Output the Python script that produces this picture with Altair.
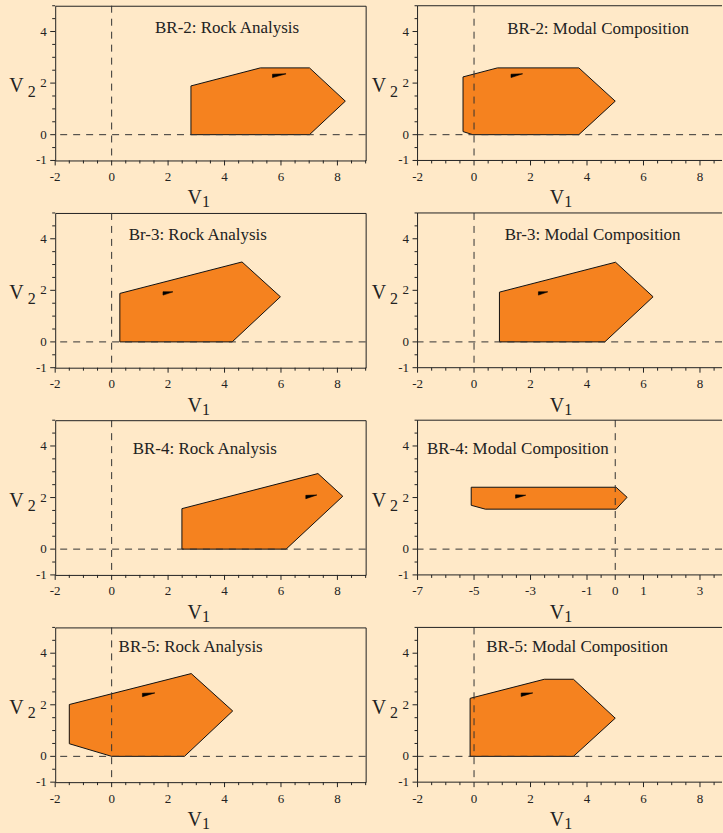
import altair as alt
import numpy as np
import pandas as pd

BG = "#FFE9C8"
ORANGE = "#F5821F"
INK = "#222222"
SERIF = "Liberation Serif"

# Panel order: row by row, rock analysis (left) then modal composition (right)
panel_titles = [
    "BR-2: Rock Analysis", "BR-2: Modal Composition",
    "Br-3: Rock Analysis", "Br-3: Modal Composition",
    "BR-4: Rock Analysis", "BR-4: Modal Composition",
    "BR-5: Rock Analysis", "BR-5: Modal Composition",
]
title_v1 = [4.09, 4.39, 3.05, 4.20, 3.30, -3.45, 2.80, 3.65]
title_v2 = [3.94, 3.91, 3.94, 3.94, 3.68, 3.68, 4.03, 4.03]

# Polygon vertices (V1, V2) of each region
region_v1 = [
    [2.81, 2.81, 5.27, 7.01, 8.28, 7.01],
    [-0.39, -0.39, 0.83, 3.71, 5.00, 3.71, -0.04],
    [0.29, 0.29, 4.62, 5.98, 4.27],
    [0.90, 0.90, 5.01, 6.34, 4.63],
    [2.49, 2.49, 7.31, 8.19, 6.18],
    [-5.10, -5.10, 0.03, 0.42, 0.03, -4.60],
    [-1.50, -1.50, 2.82, 4.29, 2.58, 0.00],
    [-0.14, -0.14, 2.49, 3.52, 5.00, 3.52],
]
region_v2 = [
    [0.00, 1.89, 2.59, 2.59, 1.30, 0.00],
    [0.12, 2.24, 2.59, 2.59, 1.30, 0.00, 0.00],
    [0.00, 1.88, 3.10, 1.75, 0.00],
    [0.00, 1.93, 3.09, 1.75, 0.00],
    [0.00, 1.57, 2.93, 2.05, 0.00],
    [1.70, 2.40, 2.40, 2.01, 1.55, 1.55],
    [0.49, 2.01, 3.21, 1.76, 0.00, 0.00],
    [0.00, 2.25, 2.99, 2.99, 1.48, 0.00],
]

# Direction pointer: tail and tip in (V1, V2)
pointer_tail_v1 = [5.70, 1.31, 1.82, 2.28, 6.88, -3.53, 1.09, 1.67]
pointer_tail_v2 = [2.28, 2.28, 1.88, 1.88, 2.02, 2.04, 2.38, 2.39]
pointer_tip_v1 = [6.18, 1.72, 2.17, 2.61, 7.27, -3.17, 1.53, 2.08]
pointer_tip_v2 = [2.36, 2.36, 1.94, 1.94, 2.10, 2.09, 2.46, 2.46]
pointer_half_width = 0.065

# Axis ranges and labelled ticks
left_domain = [-2, 9]
right_domain = [-2, 8.78]
br4_modal_domain = [-7, 3.78]
x_domains = [left_domain, right_domain] * 2 + [left_domain, br4_modal_domain] + [left_domain, right_domain]
x_labels_std = [-2, 0, 2, 4, 6, 8]
x_labels_br4_modal = [-7, -5, -3, -1, 0, 1, 3]
x_labels = [x_labels_std] * 5 + [x_labels_br4_modal] + [x_labels_std] * 2
y_domain = [-1, 5]
y_labels = [-1, 0, 2, 4]
origin_lines = [0]

LEFT_W, RIGHT_W, PANEL_H = 311, 305, 155
MAJOR_TICK, MINOR_TICK = 5, 3


def minor_positions(labels, lo, hi):
    return [float(v) for v in np.arange(lo, hi + 1e-9, 0.5) if v not in labels]


def panel(i, width, right_col):
    lo, hi = x_domains[i]
    xscale = alt.Scale(domain=[lo, hi], nice=False, zero=False)
    yscale = alt.Scale(domain=y_domain, nice=False, zero=False)

    def X(field):
        return alt.X(field, scale=xscale, axis=None)

    def Y(field):
        return alt.Y(field, scale=yscale, axis=None)

    xs, ys = region_v1[i], region_v2[i]
    region = pd.DataFrame({"v1": xs + xs[:1], "v2": ys + ys[:1], "k": list(range(len(xs) + 1))})
    shape = alt.Chart(region).mark_line(
        fill=ORANGE, stroke="#111111", strokeWidth=1, strokeJoin="miter"
    ).encode(x=X("v1:Q"), y=Y("v2:Q"), order="k:Q")

    tx, ty = pointer_tail_v1[i], pointer_tail_v2[i]
    px, py = pointer_tip_v1[i], pointer_tip_v2[i]
    hw = pointer_half_width
    pointer = pd.DataFrame({
        "v1": [tx, tx, px, tx],
        "v2": [ty + hw, ty - hw, py, ty + hw],
        "k": [0, 1, 2, 3],
    })
    arrow = alt.Chart(pointer).mark_line(fill="black", stroke="black", strokeWidth=0.6).encode(
        x=X("v1:Q"), y=Y("v2:Q"), order="k:Q"
    )

    zero_df = pd.DataFrame({"z": origin_lines})
    dash = dict(color="#333333", strokeWidth=1, strokeDash=[7, 6])
    vline = alt.Chart(zero_df).mark_rule(**dash).encode(x=X("z:Q"))
    hline = alt.Chart(zero_df).mark_rule(**dash).encode(y=Y("z:Q"))

    # tick marks (major and minor) drawn outside the frame
    def xticks(vals, size):
        return alt.Chart(pd.DataFrame({"t": vals})).mark_rule(color=INK, strokeWidth=1).encode(
            x=X("t:Q"), y=alt.value(PANEL_H), y2=alt.value(PANEL_H + size)
        )

    def yticks(vals, size):
        return alt.Chart(pd.DataFrame({"t": vals})).mark_rule(color=INK, strokeWidth=1).encode(
            y=Y("t:Q"), x=alt.value(0), x2=alt.value(-size)
        )

    xl = x_labels[i]
    x_lab = alt.Chart(pd.DataFrame({"t": xl, "s": [str(v) for v in xl]})).mark_text(
        font=SERIF, fontSize=13, color=INK, align="center", baseline="alphabetic"
    ).encode(x=X("t:Q"), y=alt.value(PANEL_H + 20.5), text="s:N")
    y_lab = alt.Chart(pd.DataFrame({"t": y_labels, "s": [str(v) for v in y_labels]})).mark_text(
        font=SERIF, fontSize=13, color=INK, align="right", baseline="middle"
    ).encode(y=Y("t:Q"), x=alt.value(-8.5), text="s:N")

    title_df = pd.DataFrame({"v1": [title_v1[i]], "v2": [title_v2[i]], "t": [panel_titles[i]]})
    title = alt.Chart(title_df).mark_text(
        font=SERIF, fontSize=17, color=INK, align="center", baseline="alphabetic"
    ).encode(x=X("v1:Q"), y=Y("v2:Q"), text="t:N")

    def label(txt, x, y, size):
        return alt.Chart(pd.DataFrame({"t": [txt]})).mark_text(
            font=SERIF, fontSize=size, color=INK, align="left", baseline="alphabetic"
        ).encode(x=alt.value(x), y=alt.value(y), text="t:N")

    layers = [
        shape, arrow, vline, hline,
        xticks(xl, MAJOR_TICK), xticks(minor_positions(xl, lo, hi), MINOR_TICK),
        yticks(y_labels, MAJOR_TICK), yticks(minor_positions(y_labels, *y_domain), MINOR_TICK),
        x_lab, y_lab, title,
        label("V", 132.5, PANEL_H + 44, 20), label("1", 147, PANEL_H + 47, 16),
        label("V", -46, 86.5, 20), label("2", -27.6, 91, 16),
    ]
    view = alt.ViewBackground(stroke=INK, strokeWidth=1)
    if right_col:
        # frame on left, bottom and top; the right side runs past the page edge
        edges = [
            dict(x=alt.value(0), x2=alt.value(width), y=alt.value(0)),
            dict(x=alt.value(0), x2=alt.value(width), y=alt.value(PANEL_H)),
            dict(x=alt.value(0), y=alt.value(0), y2=alt.value(PANEL_H)),
        ]
        for e in edges:
            layers.append(alt.Chart(zero_df).mark_rule(color=INK, strokeWidth=1).encode(**e))
        view = alt.ViewBackground(stroke="transparent")

    return alt.layer(*layers).properties(width=width, height=PANEL_H, view=view)


panels = [panel(i, RIGHT_W if i % 2 else LEFT_W, i % 2 == 1) for i in range(8)]

chart = alt.concat(
    *panels, columns=2, spacing={"row": 52.6, "column": 52}, bounds="flush"
).properties(
    background=BG,
    padding={"left": 8.3, "top": 4, "right": 0, "bottom": 0},
).configure_view(fill=BG)

chart.save("out.html", embed_options={"renderer": "svg", "actions": False})
